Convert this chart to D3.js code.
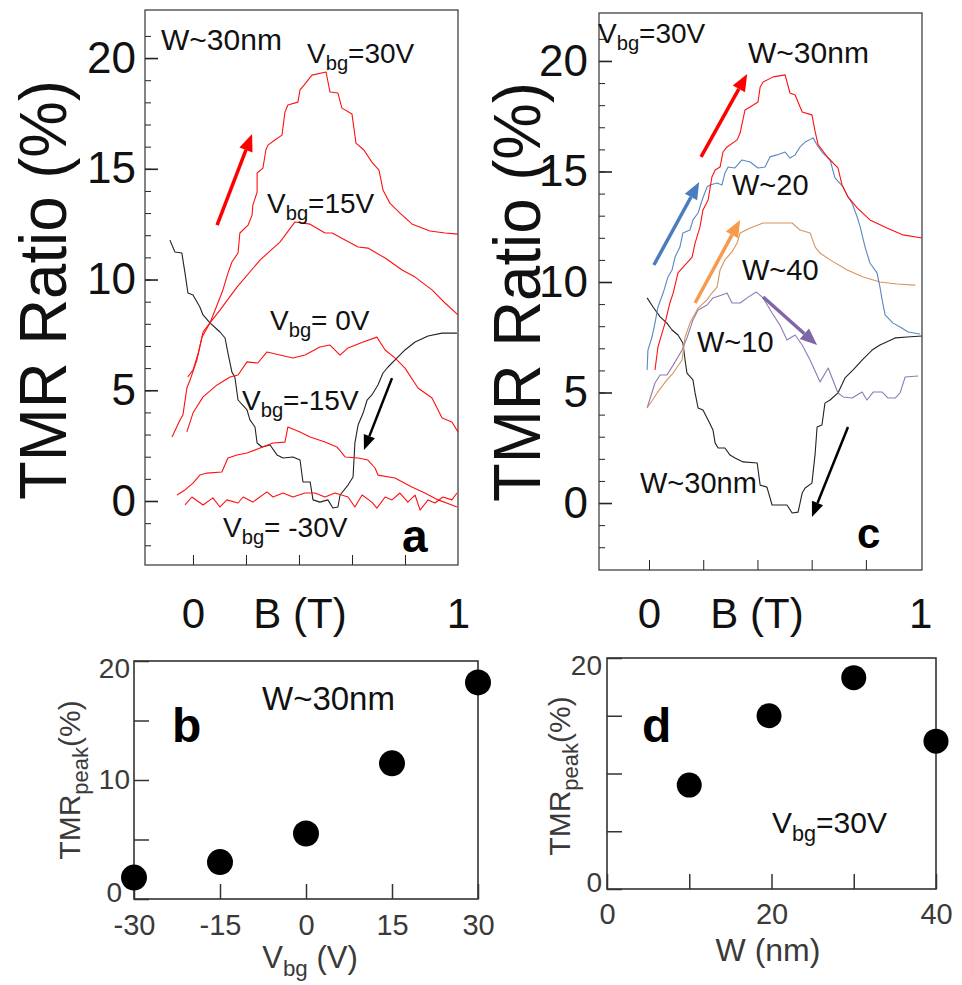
<!DOCTYPE html>
<html><head><meta charset="utf-8">
<script src="https://cdn.jsdelivr.net/npm/d3@7"></script>
<style>body{margin:0;background:#fff}svg{display:block}text{font-family:"Liberation Sans",Arial,sans-serif}</style>
</head><body><svg id="fig" width="962" height="985"></svg>
<script>
// ---------------- data ----------------
const tmrMajor = [0,5,10,15,20];
const tmrMinor = d3.range(-2,22);
const bTicks = [0,0.2,0.4,0.6,0.8];
const bLabels = [0,1];

// panel a : TMR vs B for several Vbg (W~30nm)
const a_v30 = [[-0.02,5.6],[0,5.91],[0.02,6.68],[0.034,7.4],[0.064,8.04],[0.091,8.85],[0.113,9.53],[0.132,10.29],[0.147,10.79],[0.17,11.2],[0.177,12.1],[0.208,12.46],[0.223,12.91],[0.226,13.36],[0.242,13.95],[0.242,14.81],[0.264,15.03],[0.275,15.85],[0.283,16.07],[0.309,16.3],[0.336,16.52],[0.347,17.56],[0.358,17.88],[0.396,18.01],[0.404,18.56],[0.419,18.78],[0.449,19.23],[0.502,19.37],[0.517,18.47],[0.547,18.42],[0.562,17.74],[0.6,17.47],[0.615,16.16],[0.645,15.85],[0.675,15.3],[0.702,14.94],[0.717,14.04],[0.743,13.45],[0.781,13.0],[0.826,12.51],[0.894,12.19],[0.951,12.1],[1.0,12.05]];
const a_v15 = [[-0.079,2.89],[-0.049,3.66],[-0.038,3.88],[-0.023,5.1],[-0.011,5.46],[0.015,6.37],[0.038,7.63],[0.064,8.04],[0.102,8.62],[0.166,9.66],[0.253,10.88],[0.328,11.69],[0.385,12.6],[0.442,12.5],[0.498,12.1],[0.525,12.1],[0.574,11.78],[0.623,11.47],[0.66,11.42],[0.725,10.97],[0.789,10.43],[0.838,10.11],[0.902,9.53],[0.951,8.94],[1.0,8.4]];
const a_v0 = [[-0.023,3.12],[0,3.97],[0.038,4.7],[0.091,5.24],[0.14,5.6],[0.17,5.69],[0.204,6.28],[0.245,6.23],[0.279,6.73],[0.328,6.59],[0.377,6.46],[0.423,6.59],[0.479,6.95],[0.517,7.04],[0.555,6.59],[0.585,6.91],[0.642,7.18],[0.694,7.4],[0.725,6.82],[0.762,6.46],[0.8,6.0],[0.849,5.1],[0.902,4.65],[0.94,3.75],[0.977,3.57],[1.0,3.12]];
const a_m15 = [[-0.06,0.27],[-0.03,0.5],[0,0.81],[0.026,1.17],[0.053,1.26],[0.109,1.31],[0.132,1.94],[0.166,2.08],[0.204,2.17],[0.253,2.39],[0.302,2.62],[0.347,2.66],[0.358,3.34],[0.404,3.12],[0.442,2.89],[0.498,2.66],[0.543,2.44],[0.574,1.99],[0.623,1.94],[0.66,1.85],[0.687,1.49],[0.698,1.17],[0.762,1.04],[0.826,0.63],[0.875,0.36],[0.925,0.05],[0.977,-0.18],[0.996,-0.27]];
const a_m30 = [[-0.03,-0.18],[-0.004,0.18],[0.038,-0.18],[0.075,0.14],[0.102,-0.27],[0.128,0.05],[0.17,-0.09],[0.189,0.18],[0.226,-0.05],[0.279,0.41],[0.302,0.18],[0.34,0.36],[0.377,0.18],[0.423,0.36],[0.46,0.36],[0.498,0.18],[0.536,0.36],[0.585,0.18],[0.611,-0.27],[0.638,0.27],[0.675,-0.05],[0.694,-0.32],[0.725,0.18],[0.751,0.05],[0.781,0.36],[0.811,-0.05],[0.838,0.27],[0.857,-0.41],[0.887,0.05],[0.913,-0.09],[0.943,0.18],[0.977,0.05],[0.996,0.36]];
const a_neg = [[-0.087,11.78],[-0.068,11.24],[-0.042,11.2],[-0.03,10.29],[-0.019,9.39],[0,9.3],[0.026,8.76],[0.038,8.4],[0.064,8.04],[0.102,7.63],[0.121,7.36],[0.132,6.68],[0.147,5.82],[0.158,5.6],[0.17,4.56],[0.204,4.11],[0.215,3.66],[0.234,3.34],[0.242,2.62],[0.26,2.44],[0.291,2.53],[0.317,2.08],[0.34,1.94],[0.377,1.99],[0.404,1.85],[0.415,0.86],[0.442,0.86],[0.453,0.05],[0.479,-0.05],[0.509,0.05],[0.528,-0.32],[0.547,-0.27],[0.555,0.27],[0.585,0.72],[0.604,1.08],[0.611,2.62],[0.623,3.43],[0.642,3.97],[0.657,4.56],[0.675,4.79],[0.698,5.24],[0.717,5.78],[0.736,6.05],[0.77,6.46],[0.8,6.82],[0.838,7.18],[0.887,7.45],[0.94,7.58],[0.996,7.58]];
const a_arrowUp = [0.091,12.46,0.223,16.57];
const a_arrowDown = [0.751,5.55,0.645,2.30];

// panel c : TMR vs B for several W (Vbg=30V)
const c_w30 = [[0.022,6.02],[0.033,7.06],[0.048,7.69],[0.059,8.14],[0.077,9.05],[0.089,9.5],[0.107,10.41],[0.14,10.86],[0.159,11.13],[0.17,11.76],[0.188,12.49],[0.199,13.26],[0.218,13.71],[0.232,14.75],[0.244,15.07],[0.262,15.2],[0.273,15.88],[0.288,16.11],[0.325,16.43],[0.336,16.74],[0.354,17.78],[0.373,17.92],[0.402,18.14],[0.41,18.82],[0.421,19.05],[0.458,19.28],[0.502,19.37],[0.52,18.55],[0.539,18.46],[0.565,17.69],[0.601,17.56],[0.613,16.79],[0.624,16.2],[0.661,15.61],[0.697,15.16],[0.712,14.39],[0.734,13.85],[0.768,13.35],[0.815,12.81],[0.878,12.44],[0.937,12.13],[1.007,11.99]];
const c_w20 = [[-0.007,6.02],[-0.004,6.92],[0.011,7.51],[0.022,8.14],[0.033,8.87],[0.052,9.5],[0.07,10.23],[0.085,10.54],[0.096,11.13],[0.114,11.58],[0.125,12.22],[0.151,12.35],[0.162,12.81],[0.181,13.12],[0.196,13.71],[0.214,14.3],[0.225,14.39],[0.251,14.48],[0.269,14.39],[0.28,14.93],[0.292,15.2],[0.317,15.16],[0.343,15.52],[0.373,15.43],[0.402,15.16],[0.428,15.2],[0.446,15.66],[0.472,15.75],[0.502,15.88],[0.52,15.61],[0.539,15.75],[0.557,16.11],[0.576,16.33],[0.605,16.52],[0.62,16.2],[0.638,15.88],[0.668,15.52],[0.686,14.71],[0.716,14.3],[0.734,13.85],[0.749,13.57],[0.768,12.94],[0.779,12.49],[0.797,11.58],[0.815,10.86],[0.841,10.41],[0.852,9.77],[0.86,9.19],[0.871,8.51],[0.9,8.14],[0.926,7.96],[0.956,7.74],[1.0,7.65]];
const c_w40 = [[-0.007,4.3],[0.03,4.98],[0.066,5.57],[0.089,5.88],[0.122,6.47],[0.133,7.51],[0.151,8.14],[0.181,8.82],[0.214,9.19],[0.232,9.5],[0.251,9.77],[0.262,10.54],[0.28,11.0],[0.306,11.36],[0.325,11.76],[0.336,12.22],[0.373,12.44],[0.421,12.67],[0.483,12.67],[0.528,12.67],[0.557,12.35],[0.594,12.22],[0.613,11.58],[0.631,11.31],[0.668,11.0],[0.731,10.54],[0.79,10.23],[0.852,10.0],[0.915,9.91],[0.982,9.86]];
const c_w10 = [[-0.007,4.3],[0.022,5.43],[0.041,5.79],[0.066,5.79],[0.089,6.24],[0.122,6.92],[0.14,7.47],[0.162,8.28],[0.181,8.73],[0.214,8.96],[0.236,9.28],[0.269,9.41],[0.288,9.5],[0.306,9.05],[0.336,9.05],[0.362,9.28],[0.395,9.55],[0.421,9.28],[0.454,8.6],[0.483,8.05],[0.509,7.38],[0.539,7.6],[0.565,7.15],[0.594,6.47],[0.631,5.48],[0.661,6.11],[0.697,4.98],[0.716,4.8],[0.749,4.75],[0.786,5.02],[0.804,4.66],[0.827,5.02],[0.86,5.02],[0.882,4.75],[0.908,4.75],[0.926,4.98],[0.945,5.7],[0.993,5.75]];
const c_neg = [[-0.007,9.28],[0.015,8.87],[0.041,8.42],[0.066,8.14],[0.085,7.83],[0.107,7.6],[0.125,7.24],[0.133,6.47],[0.14,5.88],[0.162,5.57],[0.17,4.98],[0.181,4.3],[0.199,4.21],[0.218,3.76],[0.236,3.3],[0.244,2.71],[0.255,2.49],[0.28,2.49],[0.299,2.17],[0.317,2.04],[0.347,1.86],[0.399,1.81],[0.41,0.81],[0.435,0.72],[0.454,-0.09],[0.509,-0.09],[0.528,-0.45],[0.55,-0.41],[0.565,0.45],[0.576,0.68],[0.601,0.9],[0.613,2.26],[0.62,3.44],[0.638,3.53],[0.649,4.52],[0.668,4.66],[0.697,4.98],[0.723,5.66],[0.753,6.02],[0.786,6.47],[0.823,6.92],[0.852,7.15],[0.908,7.47],[0.952,7.51],[1.007,7.56]];
const c_arrowW30 = [0.192,15.66,0.362,19.41];
const c_arrowW20 = [0.018,10.77,0.185,14.52];
const c_arrowW40 = [0.170,9.05,0.336,12.81];
const c_arrowW10 = [0.421,9.32,0.620,7.15];
const c_arrowNeg = [0.734,3.44,0.601,-0.63];

// panel b : peak TMR vs Vbg
const vbgValues = [-30,-15,0,15,30];
const peakVsVbg = [1.8,3.1,5.5,11.4,18.2];
// panel d : peak TMR vs W
const wValues = [10,19.7,30,40];
const peakVsW = [9.0,15.0,18.3,12.8];

// ---------------- drawing ----------------
const FONT = '"Liberation Sans",Arial,sans-serif';
const svg = d3.select("#fig");

function styleAxis(sel, size, color){
  sel.attr("font-family", FONT).attr("font-size", size);
  sel.select(".domain").remove();
  sel.selectAll("text").attr("fill", color);
  sel.selectAll("line").attr("stroke", "#222");
}

function arrow(g, x, y, a, color, w, hl, hw){
  const x1=x(a[0]), y1=y(a[1]), x2=x(a[2]), y2=y(a[3]);
  const dx=x2-x1, dy=y2-y1, L=Math.hypot(dx,dy), ux=dx/L, uy=dy/L;
  const bx=x2-ux*hl, by=y2-uy*hl;
  g.append("line").attr("x1",x1).attr("y1",y1).attr("x2",bx).attr("y2",by)
    .attr("stroke",color).attr("stroke-width",w);
  g.append("polygon").attr("points",[[x2,y2],[bx-uy*hw/2,by+ux*hw/2],[bx+uy*hw/2,by-ux*hw/2]].map(p=>p.join(",")).join(" "))
    .attr("fill",color);
}

function subLabel(g, x, y, pre, sub, post, size, anchor, color){
  const t = g.append("text").attr("x",x).attr("y",y).attr("font-size",size).attr("text-anchor",anchor||"start").attr("fill",color||"#111");
  t.append("tspan").text(pre);
  t.append("tspan").attr("font-size",size*0.72).attr("dy",size*0.25).text(sub);
  t.append("tspan").attr("dy",-size*0.25).text(post);
  return t;
}

function bigPanel(L, series, arrows, labels){
  const x = d3.scaleLinear().domain(L.xd).range([L.x0, L.x1]);
  const y = d3.scaleLinear().domain(L.yd).range([L.y1, L.y0]);
  const g = svg.append("g");
  g.append("g").attr("transform",`translate(${L.x0},0)`)
    .call(d3.axisLeft(y).tickValues(tmrMinor).tickSize(-6).tickFormat(""))
    .call(s=>styleAxis(s,10,"#000"));
  g.append("g").attr("transform",`translate(${L.x0},0)`)
    .call(d3.axisLeft(y).tickValues(tmrMajor).tickSize(-13).tickPadding(L.ypad))
    .call(s=>{styleAxis(s,44,"#111"); s.selectAll("line").attr("stroke-width",1.6);});
  g.append("g").attr("transform",`translate(0,${L.y1})`)
    .call(d3.axisBottom(x).tickValues(bTicks).tickSize(-10).tickFormat(""))
    .call(s=>styleAxis(s,10,"#000"));
  g.append("g").attr("transform",`translate(0,${L.y1})`)
    .call(d3.axisBottom(x).tickValues(bLabels).tickSize(0).tickPadding(L.xpad).tickFormat(d3.format("d")))
    .call(s=>styleAxis(s,42,"#111"));
  g.append("text").attr("x",L.btx).attr("y",L.bty).attr("text-anchor","middle")
    .attr("font-size",42).attr("fill","#111").text("B (T)");
  g.append("rect").attr("x",L.x0).attr("y",L.y0).attr("width",L.x1-L.x0).attr("height",L.y1-L.y0)
    .attr("fill","none").attr("stroke","#333").attr("stroke-width",1.2);
  g.append("text").attr("transform",`translate(${L.tx},${L.ty}) rotate(-90)`)
    .attr("text-anchor","middle").attr("font-size",66).attr("fill","#111")
    .attr("textLength",L.tlen).attr("lengthAdjust","spacingAndGlyphs").text("TMR Ratio (%)");
  const line = d3.line().x(d=>x(d[0])).y(d=>y(d[1]));
  series.forEach(s=>{
    g.append("path").datum(s.data).attr("d",line).attr("fill","none")
      .attr("stroke",s.color).attr("stroke-width",s.w||1.1).attr("stroke-linejoin","round");
  });
  arrows.forEach(a=>arrow(g,x,y,a.v,a.color,a.w,a.hl,a.hw));
  labels(g);
}

// Panel a
bigPanel({x0:145,x1:458,y0:10,y1:565,xd:[-0.181,1.0],yd:[-2.89,22.17],ypad:9,xpad:33,btx:300,bty:628,tx:66,ty:290,tlen:420},
  [{data:a_neg,color:"#222"},{data:a_m30,color:"#ff1010"},{data:a_m15,color:"#ff1010"},{data:a_v0,color:"#ff1010"},{data:a_v15,color:"#ff1010"},{data:a_v30,color:"#ff1010"}],
  [{v:a_arrowUp,color:"#ff0000",w:3.5,hl:17,hw:14},{v:a_arrowDown,color:"#000",w:2.5,hl:15,hw:12}],
  g=>{
    g.append("text").attr("x",161).attr("y",50).attr("font-size",30).attr("fill","#111").text("W~30nm");
    subLabel(g,307,63,"V","bg","=30V",28);
    subLabel(g,267,213,"V","bg","=15V",28);
    subLabel(g,270,330,"V","bg","= 0V",28);
    subLabel(g,242,410,"V","bg","=-15V",28);
    subLabel(g,223,537,"V","bg","= -30V",28);
    g.append("text").attr("x",402).attr("y",552).attr("font-size",46).attr("font-weight","bold").attr("fill","#000").text("a");
  });

// Panel c
bigPanel({x0:599,x1:922,y0:13,y1:570,xd:[-0.1845,1.007],yd:[-3.03,22.17],ypad:11,xpad:28,btx:757,bty:628,tx:540,ty:292,tlen:420},
  [{data:c_neg,color:"#222"},{data:c_w10,color:"#8c7bb3"},{data:c_w40,color:"#d8935e"},{data:c_w20,color:"#5b87c2"},{data:c_w30,color:"#ff1010"}],
  [{v:c_arrowW30,color:"#ff0000",w:3.5,hl:17,hw:14},{v:c_arrowW20,color:"#4a7dbf",w:3.5,hl:17,hw:14},
   {v:c_arrowW40,color:"#f79a4c",w:3.5,hl:17,hw:14},{v:c_arrowW10,color:"#7f66a6",w:3.5,hl:17,hw:14},
   {v:c_arrowNeg,color:"#000",w:2.5,hl:15,hw:12}],
  g=>{
    subLabel(g,598,43,"V","bg","=30V",28);
    g.append("text").attr("x",748).attr("y",63).attr("font-size",30).attr("fill","#111").text("W~30nm");
    g.append("text").attr("x",732).attr("y",195).attr("font-size",29).attr("fill","#111").text("W~20");
    g.append("text").attr("x",742).attr("y",280).attr("font-size",29).attr("fill","#111").text("W~40");
    g.append("text").attr("x",697).attr("y",352).attr("font-size",29).attr("fill","#111").text("W~10");
    g.append("text").attr("x",640).attr("y",493).attr("font-size",29).attr("fill","#111").text("W~30nm");
    g.append("text").attr("x",857).attr("y",548).attr("font-size",42).attr("font-weight","bold").attr("fill","#000").text("c");
  });

// small panels
function smallPanel(L, xs, ys, labels){
  const x = d3.scaleLinear().domain(L.xd).range([L.x0,L.x1]);
  const y = d3.scaleLinear().domain([0,20]).range([L.y1,L.y0]);
  const g = svg.append("g");
  g.append("g").attr("transform",`translate(${L.x0},0)`)
    .call(d3.axisLeft(y).tickValues([0,5,10,15,20]).tickSize(-15).tickPadding(L.ypad).tickFormat(L.yfmt))
    .call(s=>{
      styleAxis(s,28,"#3a3a3a"); s.selectAll("line").attr("stroke","#333").attr("stroke-width",1.5);
      s.selectAll(".tick").filter(d=>d===20).select("text").attr("dy","0.6em");
      s.selectAll(".tick").filter(d=>d===0).select("text").attr("x",L.zeroX).attr("dy","0.1em");
    });
  g.append("g").attr("transform",`translate(0,${L.y1})`)
    .call(d3.axisBottom(x).tickValues(L.xt).tickSize(-15).tickPadding(L.xpad).tickFormat(L.xfmt))
    .call(s=>{styleAxis(s,29,"#3a3a3a"); s.selectAll("line").attr("stroke","#333").attr("stroke-width",1.5);});
  g.append("rect").attr("x",L.x0).attr("y",L.y0).attr("width",L.x1-L.x0).attr("height",L.y1-L.y0)
    .attr("fill","none").attr("stroke","#333").attr("stroke-width",1.6);
  g.selectAll("circle.pt").data(xs.map((v,i)=>[v,ys[i]])).join("circle").attr("class","pt")
    .attr("cx",d=>x(d[0])).attr("cy",d=>y(d[1])).attr("r",L.r).attr("fill","#000");
  const t = g.append("text").attr("transform",`translate(${L.tx},${L.ty}) rotate(-90)`)
    .attr("text-anchor","middle").attr("font-size",30).attr("fill","#3a3a3a");
  t.append("tspan").text("TMR");
  t.append("tspan").attr("font-size",22).attr("dy",8).text("peak");
  t.append("tspan").attr("dy",-8).text("(%)");
  labels(g);
}

smallPanel({x0:134,x1:478,y0:661,y1:899,xd:[-30,30],xt:vbgValues,ypad:4,xpad:15,r:13,zeroX:-12,
  yfmt:d=>d%10===0?d:"",xfmt:d=>d,tx:80,ty:780},
  vbgValues, peakVsVbg,
  g=>{
    subLabel(g,310,968,"V","bg"," (V)",31,"middle","#3a3a3a");
    g.append("text").attr("x",262).attr("y",710).attr("font-size",33).attr("fill","#111").text("W~30nm");
    g.append("text").attr("x",172).attr("y",742).attr("font-size",48).attr("font-weight","bold").attr("fill","#000").text("b");
  });

smallPanel({x0:607,x1:936,y0:658,y1:889,xd:[0,40],xt:[0,10,20,30,40],ypad:5,xpad:14,r:12.5,zeroX:-5,
  yfmt:d=>(d===0||d===20)?d:"",xfmt:d=>d%20===0?d:"",tx:570,ty:776},
  wValues, peakVsW,
  g=>{
    g.append("text").attr("x",768).attr("y",961).attr("text-anchor","middle").attr("font-size",32).attr("fill","#3a3a3a").text("W (nm)");
    subLabel(g,772,833,"V","bg","=30V",30);
    g.append("text").attr("x",642).attr("y",742).attr("font-size",48).attr("font-weight","bold").attr("fill","#000").text("d");
  });
</script></body></html>
